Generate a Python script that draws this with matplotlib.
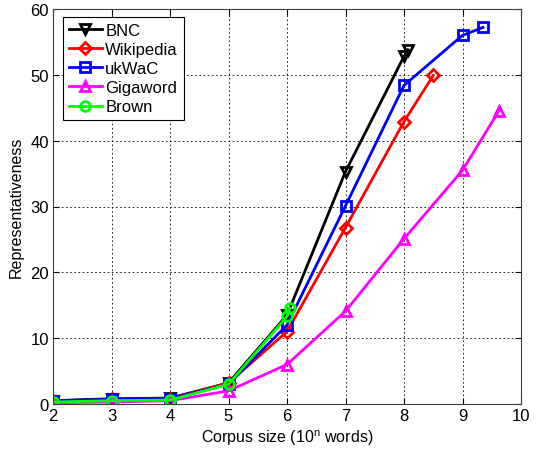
import matplotlib
matplotlib.use("Agg")
import matplotlib.pyplot as plt

plt.rcParams['font.family'] = ['Liberation Sans', 'DejaVu Sans']
plt.rcParams['mathtext.fontset'] = 'custom'
plt.rcParams['mathtext.rm'] = 'Liberation Sans'

bnc_x = [2, 3, 4, 5, 6, 7, 8, 8.07]
bnc_y = [0.5, 0.8, 0.9, 3.2, 13.5, 35.3, 52.8, 53.8]
wiki_x = [2, 3, 4, 5, 6, 7, 8, 8.5]
wiki_y = [0.4, 0.7, 0.8, 3.2, 11.0, 26.8, 42.9, 49.9]
ukwac_x = [2, 3, 4, 5, 6, 7, 8, 9, 9.35]
ukwac_y = [0.5, 0.7, 0.8, 3.0, 12.0, 30.1, 48.4, 56.0, 57.2]
giga_x = [2, 3, 4, 5, 6, 7, 8, 9, 9.62]
giga_y = [0.2, 0.3, 0.5, 2.0, 6.0, 14.1, 25.1, 35.5, 44.5]
brown_x = [2, 3, 4, 5, 6, 6.05]
brown_y = [0.3, 0.5, 0.6, 3.0, 13.3, 14.6]

series = [
    ("BNC", bnc_x, bnc_y, "black", "v"),
    ("Wikipedia", wiki_x, wiki_y, "red", "D"),
    ("ukWaC", ukwac_x, ukwac_y, "blue", "s"),
    ("Gigaword", giga_x, giga_y, "magenta", "^"),
    ("Brown", brown_x, brown_y, "#00ff00", "o"),
]

fig = plt.figure(figsize=(5.39, 4.52), dpi=100)
ax = fig.add_axes([53/539, 47/452, 468/539, 395/452])

for name, xs, ys, c, m in series:
    ms = 7 if m != "D" else 6
    ax.plot(xs, ys, color=c, lw=2, marker=m, markersize=ms,
            markerfacecolor='none', markeredgecolor=c, markeredgewidth=2,
            label=name)

ax.set_xlim(2, 10)
ax.set_ylim(0, 60)
ax.set_xticks(range(2, 11))
ax.set_yticks(range(0, 61, 10))
ax.grid(True, color='black', linestyle=(0, (2, 3)), linewidth=0.6)
ax.tick_params(direction='in', labelsize=12, length=4, top=True, right=True, pad=3)
for s in ax.spines.values():
    s.set_color('#404040')
    s.set_linewidth(0.8)
ax.set_xlabel("Corpus size (10$^{\\mathrm{n}}$ words)", fontsize=11.5, labelpad=3)
ax.set_ylabel("Representativeness", fontsize=11.5, labelpad=5)

leg = ax.legend(loc='upper left', fontsize=12, fancybox=False, edgecolor='black',
                framealpha=1, handlelength=2.0, borderpad=0.35, labelspacing=0.25,
                handletextpad=0.2, borderaxespad=0, bbox_to_anchor=(0.021, 0.98))
leg.get_frame().set_linewidth(0.8)

fig.savefig("out.png", dpi=100)
